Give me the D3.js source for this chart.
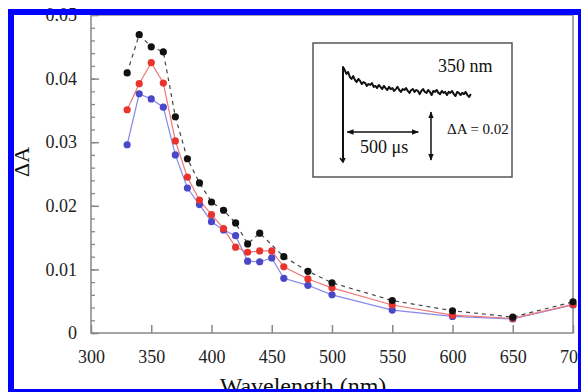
<!DOCTYPE html>
<html>
<head>
<meta charset="utf-8">
<script src="https://d3js.org/d3.v7.min.js"></script>
<style>
  body { margin: 0; background: #fff; }
  svg { display: block; }
</style>
</head>
<body>
<div id="chart"></div>
<script>
// wavelengths (nm) and delta A for the three series
const wavelengths = [330, 340, 350, 360, 370, 380, 390, 400, 410, 420, 430, 440, 450, 460, 480, 500, 550, 600, 650, 700];
// black series has no visible point at 450 nm
const blackValues = [0.0409, 0.0469, 0.0450, 0.0442, 0.0340, 0.0274, 0.0236, 0.0206, 0.0193, 0.0173, 0.0140, 0.0157, null, 0.0120, 0.0097, 0.0079, 0.0051, 0.0035, 0.0025, 0.0049];
const redValues = [0.0351, 0.0392, 0.0425, 0.0393, 0.0302, 0.0245, 0.0209, 0.0186, 0.0164, 0.0135, 0.0127, 0.0129, 0.0129, 0.0104, 0.0085, 0.0071, 0.0044, 0.0028, 0.0023, 0.0045];
const blueValues = [0.0296, 0.0376, 0.0368, 0.0355, 0.0280, 0.0228, 0.0202, 0.0175, 0.0162, 0.0153, 0.0113, 0.0112, 0.0118, 0.0086, 0.0075, 0.0060, 0.0036, 0.0026, 0.0022, 0.0044];

const xTicks = [300, 350, 400, 450, 500, 550, 600, 650, 700];
const yTicks = [0, 0.01, 0.02, 0.03, 0.04, 0.05];

// inset kinetic trace at 350 nm (mOD), one sample every 12 us
const traceStep = 12;
const traceValues = [39.6, 38.3, 36.7, 37.5, 35.4, 34.6, 35.8, 34.2, 33.3, 34.6, 33.8, 32.5, 33.3, 32.9, 31.7, 32.5, 32.1, 32.9, 31.3, 31.7,
  30.8, 32.1, 31.3, 30.4, 31.7, 30.8, 30.0, 31.3, 30.4, 30.8, 29.6, 30.4, 31.3, 30.0, 29.2, 30.4, 30.0, 30.8, 29.6, 28.8,
  30.0, 30.4, 29.2, 30.0, 29.6, 28.3, 29.6, 30.4, 29.2, 28.8, 30.0, 29.2, 27.9, 29.6, 29.2, 30.0, 28.8, 28.3, 29.6, 28.8,
  29.2, 27.9, 29.2, 28.8, 29.6, 28.3, 27.5, 29.2, 28.8, 27.9, 28.8, 28.3, 29.2, 27.9, 27.1, 28.3];
const traceSpikeLow = 0;

const W = 581, H = 392;
const margin = { left: 91, right: 8, top: 15, bottom: 59 };
const width = W - margin.left - margin.right;   // 482
const height = H - margin.top - margin.bottom;  // 318

const serif = "'Liberation Serif', 'Times New Roman', serif";

const svg = d3.select("#chart").append("svg")
  .attr("width", W)
  .attr("height", H)
  .style("font-family", serif);

const defs = svg.append("defs");
defs.append("marker")
  .attr("id", "arrow")
  .attr("viewBox", "0 0 10 10")
  .attr("refX", 9).attr("refY", 5)
  .attr("markerWidth", 7).attr("markerHeight", 7)
  .attr("markerUnits", "userSpaceOnUse")
  .attr("orient", "auto-start-reverse")
  .append("path")
  .attr("d", "M0,1 L10,5 L0,9 Z")
  .attr("fill", "#111");

const x = d3.scaleLinear().domain([300, 700]).range([margin.left, margin.left + width]);
const y = d3.scaleLinear().domain([0, 0.05]).range([margin.top + height, margin.top]);

const axisColor = "#888";

// frame
svg.append("rect")
  .attr("x", x(300)).attr("y", y(0.05))
  .attr("width", x(700) - x(300)).attr("height", y(0) - y(0.05))
  .attr("fill", "none")
  .attr("stroke", axisColor)
  .attr("stroke-width", 1.5);

// minor y ticks
svg.append("g")
  .attr("transform", `translate(${x(300)},0)`)
  .call(d3.axisLeft(y).tickValues(d3.range(0, 0.0501, 0.002)).tickSizeInner(-4).tickSizeOuter(0).tickFormat(""))
  .call(g => g.select(".domain").remove())
  .call(g => g.selectAll("line").attr("stroke", axisColor).attr("stroke-width", 1.3));

// y axis
svg.append("g")
  .attr("transform", `translate(${x(300)},0)`)
  .call(d3.axisLeft(y).tickValues(yTicks).tickSizeInner(-8).tickSizeOuter(0).tickPadding(14)
    .tickFormat(d => d === 0 ? "0" : d.toFixed(2)))
  .attr("font-family", serif)
  .attr("font-size", 18)
  .call(g => g.select(".domain").remove())
  .call(g => g.selectAll("line").attr("stroke", axisColor).attr("stroke-width", 1.5))
  .call(g => g.selectAll("text").attr("fill", "#222"));

// x axis
svg.append("g")
  .attr("transform", `translate(0,${y(0)})`)
  .call(d3.axisBottom(x).tickValues(xTicks).tickSizeInner(-8).tickSizeOuter(0).tickPadding(17).tickFormat(d3.format("d")))
  .attr("font-family", serif)
  .attr("font-size", 18)
  .call(g => g.select(".domain").remove())
  .call(g => g.selectAll("line").attr("stroke", axisColor).attr("stroke-width", 1.5))
  .call(g => g.selectAll("text").attr("fill", "#222"));

// axis titles
svg.append("text")
  .attr("x", 303).attr("y", 394)
  .attr("text-anchor", "middle")
  .attr("font-size", 24)
  .attr("fill", "#111")
  .text("Wavelength (nm)");

svg.append("text")
  .attr("transform", "translate(29,162) rotate(-90)")
  .attr("text-anchor", "middle")
  .attr("font-size", 22)
  .attr("fill", "#111")
  .text("ΔA");

// series
const series = [
  { name: "black", values: blackValues, line: "#444", dot: "#111", dash: "4,4" },
  { name: "red", values: redValues, line: "#f07878", dot: "#e8342c", dash: null },
  { name: "blue", values: blueValues, line: "#8888e8", dot: "#4848c8", dash: null }
];

const line = d3.line()
  .x(d => x(d.w))
  .y(d => y(d.v));

// draw lines first (blue, red, black), then dots
const drawOrder = [series[2], series[1], series[0]];
drawOrder.forEach(s => {
  const pts = wavelengths.map((w, i) => ({ w: w, v: s.values[i] })).filter(d => d.v !== null);
  svg.append("path")
    .datum(pts)
    .attr("fill", "none")
    .attr("stroke", s.line)
    .attr("stroke-width", 1.2)
    .attr("stroke-dasharray", s.dash)
    .attr("d", line);
});
drawOrder.forEach(s => {
  const pts = wavelengths.map((w, i) => ({ w: w, v: s.values[i] })).filter(d => d.v !== null);
  svg.selectAll(".dot-" + s.name)
    .data(pts)
    .enter()
    .append("circle")
    .attr("class", "dot-" + s.name)
    .attr("cx", d => x(d.w))
    .attr("cy", d => y(d.v))
    .attr("r", 3.6)
    .attr("fill", s.dot);
});

// inset
const inset = svg.append("g");
inset.append("rect")
  .attr("x", 313).attr("y", 43)
  .attr("width", 199).attr("height", 134)
  .attr("fill", "#fff")
  .attr("stroke", "#555")
  .attr("stroke-width", 1.5);

const tx = d3.scaleLinear().domain([0, 500]).range([343, 414]);
const ty = d3.scaleLinear().domain([0, 20]).range([162, 114]);

const tracePts = [[0, traceSpikeLow]].concat(traceValues.map((v, i) => [i * traceStep, v]));
inset.append("path")
  .datum(tracePts)
  .attr("fill", "none")
  .attr("stroke", "#111")
  .attr("stroke-width", 2)
  .attr("stroke-linejoin", "round")
  .attr("d", d3.line().x(d => tx(d[0])).y(d => ty(d[1])));

// small tip at the bottom of the spike
inset.append("path")
  .attr("d", `M${tx(0) - 3},${ty(traceSpikeLow) - 4} L${tx(0)},${ty(traceSpikeLow)} L${tx(0) + 2},${ty(traceSpikeLow) - 4}`)
  .attr("fill", "none")
  .attr("stroke", "#111")
  .attr("stroke-width", 1.5);

// 500 us scale bar
inset.append("line")
  .attr("x1", tx(30)).attr("x2", tx(530))
  .attr("y1", 132).attr("y2", 132)
  .attr("stroke", "#111").attr("stroke-width", 1.5)
  .attr("marker-start", "url(#arrow)")
  .attr("marker-end", "url(#arrow)");

// delta A scale bar
inset.append("line")
  .attr("x1", 431).attr("x2", 431)
  .attr("y1", ty(0.8)).attr("y2", ty(20.8))
  .attr("stroke", "#111").attr("stroke-width", 1.5)
  .attr("marker-start", "url(#arrow)")
  .attr("marker-end", "url(#arrow)");

inset.append("text")
  .attr("x", 438).attr("y", 72)
  .attr("font-size", 18).attr("fill", "#111")
  .text("350 nm");
inset.append("text")
  .attr("x", 360).attr("y", 153)
  .attr("font-size", 18).attr("fill", "#111")
  .text("500 μs");
inset.append("text")
  .attr("x", 447).attr("y", 134)
  .attr("font-size", 15).attr("fill", "#111")
  .text("ΔA = 0.02");

// blue border of the figure
svg.append("rect")
  .attr("x", 11).attr("y", 12)
  .attr("width", 570).attr("height", 380)
  .attr("fill", "none")
  .attr("stroke", "#0000ff")
  .attr("stroke-width", 6);
</script>
</body>
</html>
